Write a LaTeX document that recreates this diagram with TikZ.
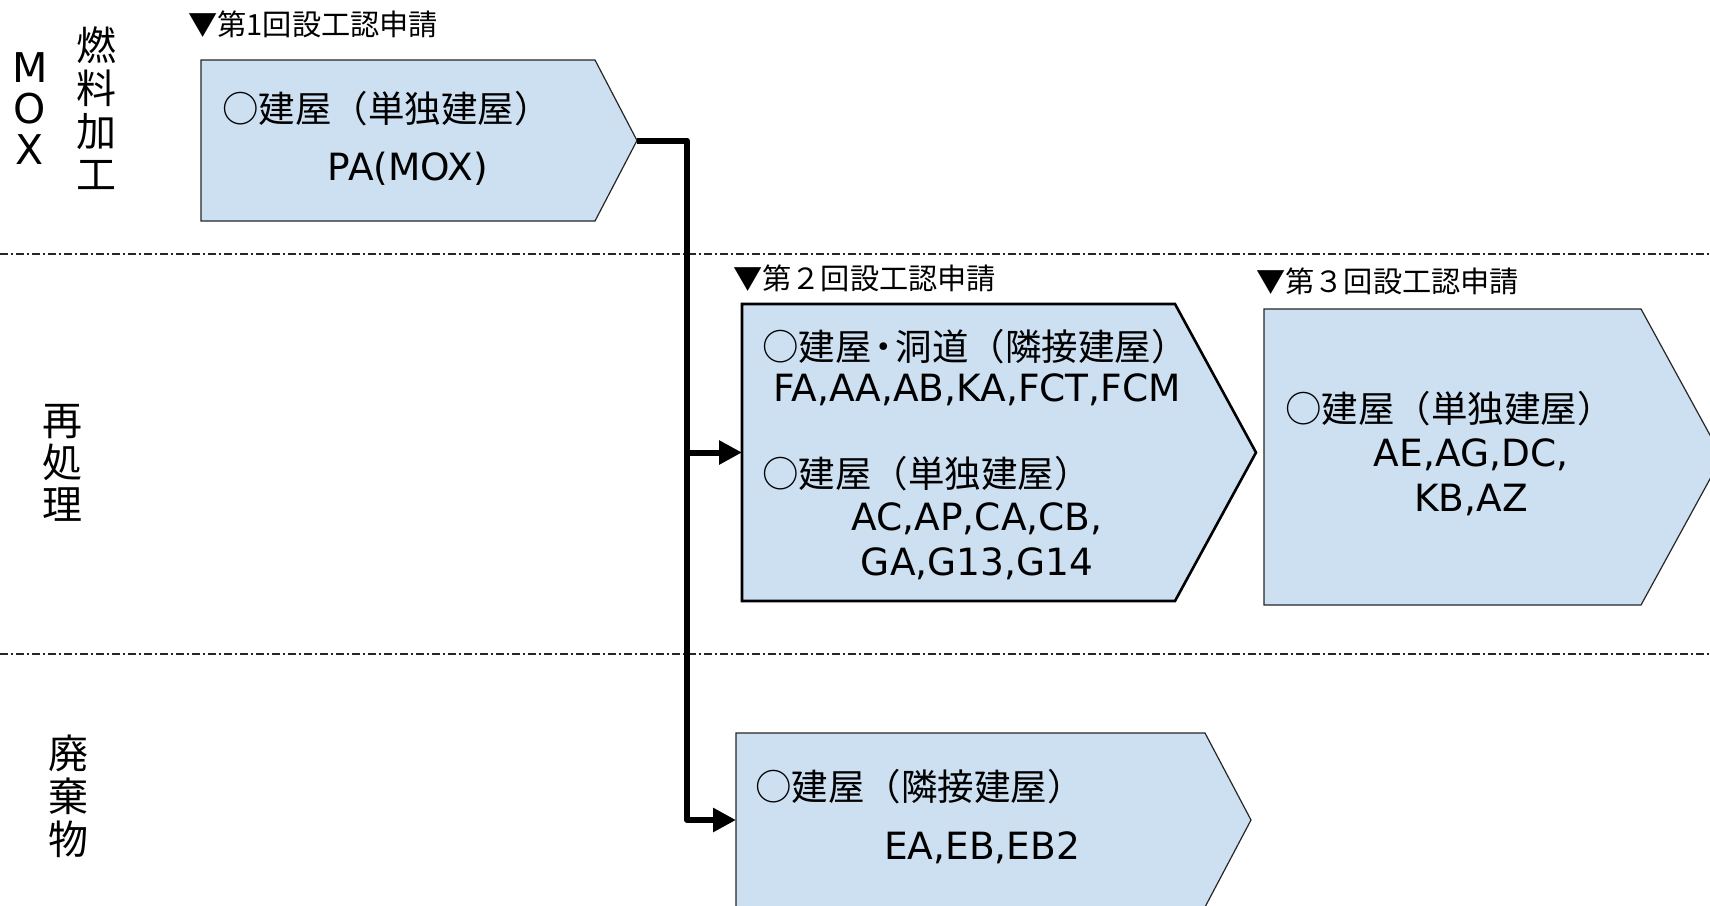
\documentclass[tikz,border=0pt]{standalone}
\usepackage{fontspec}
\setmainfont{DejaVu Sans}
\newfontfamily\jp{Noto Sans CJK JP}
\usetikzlibrary{arrows.meta}
\definecolor{boxblue}{RGB}{204,224,242}
\begin{document}
\begin{tikzpicture}[x=1pt,y=-1pt,
  thinbox/.style={fill=boxblue,draw=black!85,line width=1.2pt},
  boldbox/.style={fill=boxblue,draw=black,line width=2.6pt},
  sepline/.style={draw=black!85,line width=1.6pt,dash pattern=on 8pt off 3pt on 2pt off 3pt},
  flow/.style={line width=6pt,line join=round,-{Triangle[length=23pt,width=23pt]}},
  lbl/.style={inner sep=0pt,font=\jp\fontsize{29.2}{30}\selectfont,anchor=west},
  ttl/.style={inner sep=0pt,font=\jp\fontsize{36.5}{40}\selectfont,anchor=west},
  ids/.style={inner sep=0pt,font=\fontsize{37.5}{45}\selectfont,align=center},
  side/.style={inner sep=0pt,align=center}
]
\useasboundingbox (0,0) rectangle (1710,905);

% separators
\draw[sepline] (0,254) -- (1710,254);
\draw[sepline] (0,654) -- (1710,654);

% side labels
\node[side,font=\fontsize{41}{41}\selectfont] (mox) at (30,109) {M\\O\\X};
\node[side,font=\jp\fontsize{40}{43}\selectfont] (fuel) at (96,108) {燃\\料\\加\\工};
\node[side,font=\jp\fontsize{40}{42}\selectfont] (repro) at (62,463) {再\\処\\理};
\node[side,font=\jp\fontsize{40}{43}\selectfont] (waste) at (68,796) {廃\\棄\\物};

% boxes
\draw[thinbox] (201,60) -- (595,60) -- (637,140.5) -- (595,221) -- (201,221) -- cycle;
\coordinate (b1tip) at (637,140.5);
\draw[boldbox] (742,304) -- (1175,304) -- (1256,452.5) -- (1175,601) -- (742,601) -- cycle;
\coordinate (b2w) at (742,452.5);
\draw[thinbox] (1264,309) -- (1641,309) -- (1722,457) -- (1641,605) -- (1264,605) -- cycle;
\draw[thinbox] (736,733) -- (1205,733) -- (1251,820) -- (1205,907) -- (736,907) -- cycle;
\coordinate (b4w) at (736,820);

% stage labels
\node[lbl] (l1) at (188,24) {▼第1回設工認申請};
\node[lbl] (l2) at (733,278) {▼第２回設工認申請};
\node[lbl] (l3) at (1256,281) {▼第３回設工認申請};

% box texts
\node[ttl] (t1) at (222,109) {○建屋（単独建屋）};
\node[ids] (i1) at (408,169) {PA(MOX)};
\node[ttl] (t21) at (762,347) {○建屋\kern-0.17em・\kern-0.17em洞道（隣接建屋）};
\node[ids] (i21) at (977,390) {FA,AA,AB,KA,FCT,FCM};
\node[ttl] (t22) at (762,474) {○建屋（単独建屋）};
\node[ids] (i22) at (977,541) {AC,AP,CA,CB,\\GA,G13,G14};
\node[ttl] (t3) at (1285,409) {○建屋（単独建屋）};
\node[ids] (i3) at (1471,477) {AE,AG,DC,\\KB,AZ};
\node[ttl] (t4) at (755,787) {○建屋（隣接建屋）};
\node[ids] (i4) at (982,848) {EA,EB,EB2};

% connectors
\coordinate (bend1) at (687,140.5);
\coordinate (j2) at (687,452.5);
\coordinate (bend2) at (687,820);
\draw[flow] (b1tip) -- (bend1) -- (bend2) -- (b4w);
\draw[flow] (j2) -- (b2w);
\end{tikzpicture}
\end{document}
